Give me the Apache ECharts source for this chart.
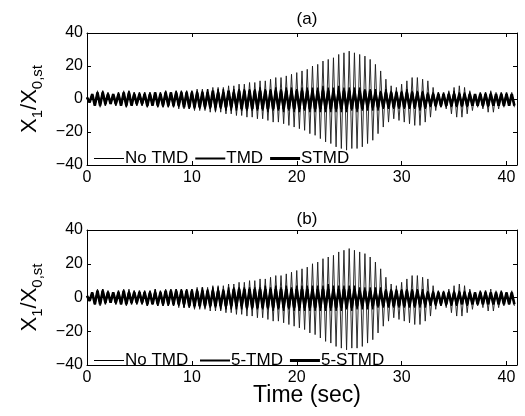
<!DOCTYPE html>
<html><head><meta charset="utf-8">
<script src="https://cdn.jsdelivr.net/npm/echarts@6/dist/echarts.min.js"></script>
<style>html,body{margin:0;padding:0;background:#fff}#c{width:525px;height:416px}</style>
</head><body><div id="c"></div><script>
// time between a peak and the following trough (s)
const halfPeriod = 0.25;

// Panel (a) and (b): No TMD response (peaks at t = 0, 0.5, ..., troughs half a step later)
const noTMDPeaks = [1,3,5,5,3,3,4,5,5,4, 4,4,4,4,4,5,4,5,5,5, 5,6,6,6,7,7,7,8,8,9, 9,10,10,11,11,12,13,13,14,15,
  16,17,18,20,21,23,24,25,27,28, 29,28,27,26,24,21,17,12,8,7, 9,11,13,13,12,11,7,4,3,5, 7,8,7,5,3,3,4,5,4,3, 3,4];
const noTMDTroughs = [-2,-4,-5,-4,-3,-4,-4,-5,-4,-4, -4,-5,-4,-5,-5,-5,-5,-6,-6,-6, -7,-7,-7,-8,-8,-8,-9,-9,-10,-10,
  -11,-11,-12,-12,-13,-14,-14,-15,-16,-17, -18,-19,-21,-22,-24,-26,-27,-29,-30,-31, -30,-30,-29,-27,-25,-21,-17,-14,-12,-13,
  -14,-15,-16,-16,-14,-11,-7,-5,-6,-9, -11,-11,-9,-7,-5,-6,-8,-8,-6,-5, -4,-5];

// Panel (a): TMD and STMD
const tmdPeaks = [1,3, 4,5,4,3,4,4,5,4,4,4,4,4,4,5,4,5,5,5, 5,5,5,6,5,6,6,5,6,6,6,6, 6,7,6,6,7,6,7,7,6,7,7,7,
  7,8,7,7,8,7,7,7,7,6, 6,6,5,6,5,5, 5,6,5,5,5,4,4,4, 4,4,5,4,4,4,3,4,4,4,3,4,4,3];
const tmdTroughs = [-2,-4, -4,-4,-3,-4,-4,-5,-4,-4,-4,-5,-4,-5,-5,-5,-5,-5,-5,-6, -6,-6,-6,-6,-7,-6,-7,-7,-7,-7,-7,-7,
  -7,-7,-8,-7,-7,-8,-7,-8,-8,-7,-8,-8, -8,-8,-8,-8,-8,-8,-7,-8,-7,-7, -7,-7,-6,-6,-6,-6, -6,-6,-6,-7,-6,-5,-5,-5,
  -5,-5,-5,-5,-5,-4,-4,-5,-5,-4,-4,-4,-4,-4];
const stmdPeaks = [1,3, 4,4,3,3,3,4,4,3,3,3,3,4,3,4,4,4,4,4, 4,4,4,4,5,4,4,5,4,5,5,5, 5,5,5,5,5,5,5,5,5,5,5,5,
  5,5,5,5,5,5,5,5,5,5, 5,4,4,4,4,4, 4,4,4,4,4,3,3,3, 3,3,3,3,3,3,3,3,3,3,3,3,3,3];
const stmdTroughs = [-2,-4, -4,-3,-3,-3,-4,-4,-4,-3,-3,-4,-4,-4,-4,-4,-4,-4,-5,-5, -5,-5,-5,-5,-5,-5,-5,-5,-5,-6,-6,-6,
  -6,-6,-6,-6,-6,-6,-6,-6,-6,-6,-6,-6, -6,-6,-6,-6,-6,-6,-6,-6,-6,-5, -5,-5,-5,-5,-5,-5, -5,-5,-5,-5,-5,-4,-4,-4,
  -4,-4,-4,-4,-4,-4,-4,-4,-4,-4,-4,-4,-4,-4];

// Panel (b): 5-TMD and 5-STMD
const tmd5Peaks = [1,3, 4,5,4,3,4,4,4,4,4,4,4,5,4,4,5,5,5,5, 5,5,6,5,6,6,5,6,6,6,6,6, 6,6,7,6,7,6,7,6,7,7,7,7,
  7,7,8,7,7,7,7,7,6,6, 6,6,6,5,5,5, 5,5,5,5,5,4,4,4, 4,4,4,4,4,4,3,4,4,3,3,4,3,3];
const tmd5Troughs = [-2,-4, -4,-4,-3,-4,-4,-4,-4,-4,-4,-5,-4,-5,-5,-5,-5,-5,-6,-6, -6,-6,-6,-6,-6,-7,-7,-7,-7,-7,-7,-7,
  -7,-7,-7,-8,-7,-8,-7,-8,-8,-8,-8,-8, -8,-8,-8,-8,-8,-7,-8,-7,-7,-7, -7,-6,-6,-6,-6,-6, -6,-6,-6,-6,-6,-5,-5,-5,
  -5,-5,-5,-4,-5,-4,-4,-4,-4,-4,-4,-4,-4,-4];
const stmd5Peaks = [1,3, 4,4,3,3,3,4,3,3,3,3,3,3,3,4,4,4,4,4, 4,4,4,4,4,4,4,4,5,5,5,5, 5,5,5,5,5,5,5,5,5,5,5,5,
  5,5,5,5,5,5,5,5,4,4, 4,4,4,4,4,4, 4,4,4,4,3,3,3,3, 3,3,3,3,3,3,3,3,3,3,3,3,3,3];
const stmd5Troughs = [-2,-4, -4,-3,-3,-3,-4,-4,-3,-3,-3,-4,-4,-4,-4,-4,-4,-4,-4,-5, -5,-5,-5,-5,-5,-5,-5,-5,-5,-5,-6,-6,
  -6,-6,-6,-6,-6,-6,-6,-6,-6,-6,-6,-6, -6,-6,-6,-6,-6,-6,-6,-5,-5,-5, -5,-5,-5,-5,-5,-5, -5,-5,-5,-4,-4,-4,-4,-4,
  -4,-4,-4,-4,-4,-4,-4,-4,-4,-4,-4,-4,-4,-4];

const xTicks = [0, 10, 20, 30, 40];
const yTicks = [-40, -20, 0, 20, 40];
const legendA = ['No TMD', 'TMD', 'STMD'];
const legendB = ['No TMD ', '5-TMD', '5-STMD'];

function build(peaks, troughs) {
  const d = [];
  const n = Math.min(peaks.length, troughs.length);
  for (let i = 0; i < n; i++) {
    d.push([2 * i * halfPeriod, peaks[i]]);
    d.push([(2 * i + 1) * halfPeriod, troughs[i]]);
  }
  return d;
}

const FF = '"Liberation Sans", Arial, Helvetica, sans-serif';
const chart = echarts.init(document.getElementById('c'), null, {renderer: 'canvas'});

function xAx(gi, pos) {
  return {
    type: 'value', gridIndex: gi, position: pos, min: xTicks[0], max: 41, interval: 10,
    axisLine: {show: true, onZero: false, lineStyle: {color: '#000', width: 1}},
    axisTick: {show: true, inside: true, length: 4, lineStyle: {color: '#000'}},
    axisLabel: {show: pos === 'bottom', color: '#000', fontSize: 16, fontFamily: FF, margin: 5},
    splitLine: {show: false}
  };
}
function yAx(gi, pos) {
  const o = {
    type: 'value', gridIndex: gi, position: pos, min: yTicks[0], max: yTicks[yTicks.length - 1], interval: 20,
    axisLine: {show: true, onZero: false, lineStyle: {color: '#000', width: 1}},
    axisTick: {show: true, inside: true, length: 4, lineStyle: {color: '#000'}},
    axisLabel: {show: pos === 'left', color: '#000', fontSize: 16, fontFamily: FF, margin: 4,
      formatter: v => String(v).replace('-', '\u2212')},
    splitLine: {show: false}
  };
  if (pos === 'left') {
    o.name = '{b|X}{s|1}{b|/X}{s|0,st}';
    o.nameLocation = 'middle';
    o.nameGap = 32;
    o.nameRotate = 90;
    o.nameTextStyle = {
      color: '#000', fontFamily: FF,
      rich: {
        b: {fontSize: 22, fontFamily: FF, color: '#000', lineHeight: 30, verticalAlign: 'middle'},
        s: {fontSize: 15, fontFamily: FF, color: '#000', lineHeight: 30, verticalAlign: 'bottom'}
      }
    };
  }
  return o;
}

function mkSeries(name, xi, yi, data, width, color, z) {
  return {
    name, type: 'line', xAxisIndex: xi, yAxisIndex: yi, data, symbol: 'none', showSymbol: false,
    lineStyle: {width, color}, itemStyle: {color}, animation: false, z, clip: true
  };
}

// legend sample lines: thin, medium, thick
const iconThin = 'path://M0,0H30V1H0Z';
const iconMed = 'path://M0,0H30V2H0Z';
const iconThick = 'path://M0,0H30V3H0Z';

const legendCommon = {
  orient: 'horizontal', itemWidth: 30, itemHeight: 12, itemGap: 7, symbolKeepAspect: true,
  textStyle: {color: '#000', fontSize: 17, fontFamily: FF, padding: [0, 0, 0, -4]},
  selectedMode: false, backgroundColor: 'transparent', inactiveColor: '#000'
};

function legendData(names) {
  return [
    {name: names[0], icon: iconThin, itemStyle: {color: '#000'}},
    {name: names[1], icon: iconMed, itemStyle: {color: '#000'}},
    {name: names[2], icon: iconThick, itemStyle: {color: '#000'}}
  ];
}

chart.setOption({
  animation: false,
  backgroundColor: '#fff',
  title: [
    {text: '(a)', left: 302, top: 6, textAlign: 'center', textStyle: {fontSize: 17, fontWeight: 'normal', color: '#000', fontFamily: FF}},
    {text: '(b)', left: 302, top: 206, textAlign: 'center', textStyle: {fontSize: 17, fontWeight: 'normal', color: '#000', fontFamily: FF}},
    {text: 'Time (sec)', left: 302, top: 379, textAlign: 'center', textStyle: {fontSize: 23, fontWeight: 'normal', color: '#000', fontFamily: FF}}
  ],
  grid: [
    {left: 87, right: 8, top: 33, height: 132, show: false},
    {left: 87, right: 8, top: 230, height: 135, show: false}
  ],
  xAxis: [xAx(0, 'bottom'), xAx(0, 'top'), xAx(1, 'bottom'), xAx(1, 'top')],
  yAxis: [yAx(0, 'left'), yAx(0, 'right'), yAx(1, 'left'), yAx(1, 'right')],
  legend: [
    Object.assign({}, legendCommon, {data: legendData(legendA), left: 89, top: 145}),
    Object.assign({}, legendCommon, {data: legendData(legendB), left: 89, top: 347})
  ],
  series: [
    mkSeries(legendA[0], 0, 0, build(noTMDPeaks, noTMDTroughs), 0.9, '#1a1a1a', 1),
    mkSeries(legendA[1], 0, 0, build(tmdPeaks, tmdTroughs), 1.4, '#000', 2),
    mkSeries(legendA[2], 0, 0, build(stmdPeaks, stmdTroughs), 2.6, '#000', 3),
    mkSeries(legendB[0], 2, 2, build(noTMDPeaks, noTMDTroughs), 0.9, '#1a1a1a', 1),
    mkSeries(legendB[1], 2, 2, build(tmd5Peaks, tmd5Troughs), 1.4, '#000', 2),
    mkSeries(legendB[2], 2, 2, build(stmd5Peaks, stmd5Troughs), 2.6, '#000', 3)
  ]
});
</script></body></html>
